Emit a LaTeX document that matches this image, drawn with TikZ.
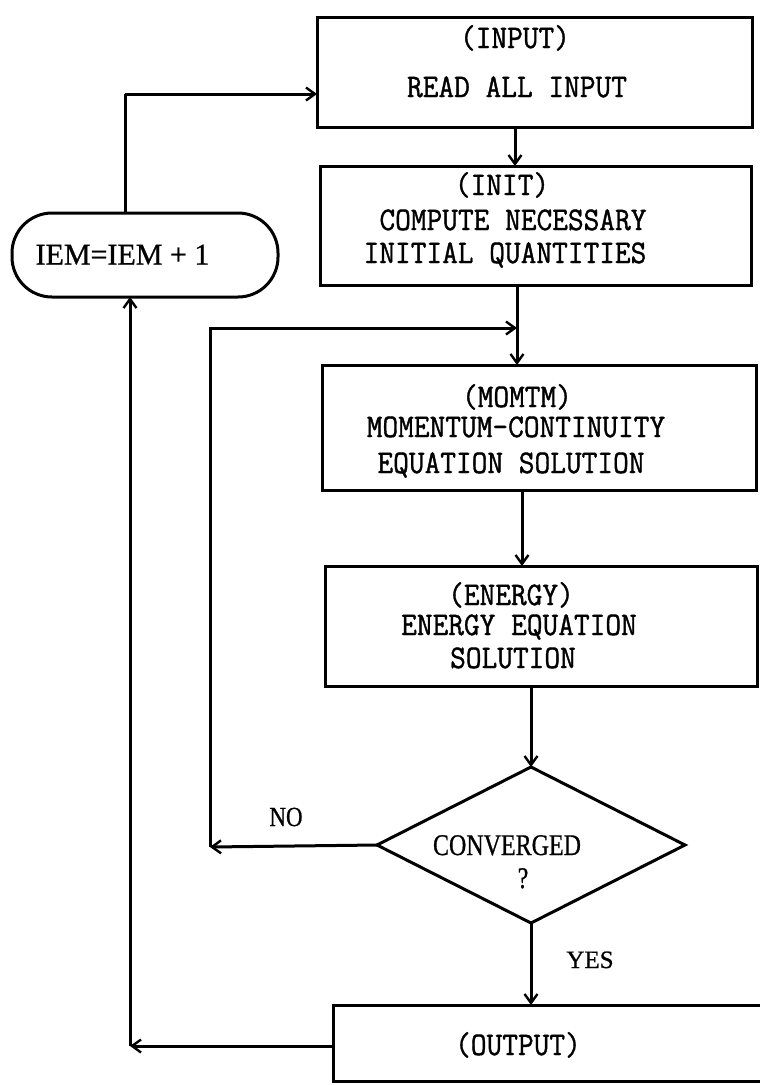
\documentclass[tikz,border=0pt]{standalone}
\usepackage{fontspec}
\newfontfamily\labfont[FakeBold=0.8]{Liberation Serif}
\newfontfamily\monofont[FakeBold=1.2]{Latin Modern Mono}
\usetikzlibrary{shapes.geometric,arrows.meta}
\newcommand{\mtxt}[1]{\scalebox{1}[1.08]{#1}}
\newcommand{\stxt}[1]{\scalebox{1}[1.25]{#1}}
\begin{document}
\begin{tikzpicture}[x=1pt,y=-1pt,
  line width=3pt,
  boxst/.style={draw, line width=3pt, inner sep=0pt, outer sep=0pt},
  txt/.style={font=\monofont\fontsize{30.5}{33}\selectfont, inner sep=0pt, anchor=base},
  lbl/.style={font=\labfont\fontsize{25}{28}\selectfont, inner sep=0pt, anchor=base},
  arr/.style={-{Straight Barb[length=9pt,width=13pt,line width=2.4pt]}, line width=3pt}]
\useasboundingbox (0,0) rectangle (760,1085);
\clip (0,0) rectangle (760,1085);
% boxes
\node[boxst, minimum width=435pt, minimum height=110pt] (input) at (534.5,72) {};
\node[boxst, minimum width=431pt, minimum height=119pt] (init) at (535.5,225.5) {};
\node[boxst, minimum width=434pt, minimum height=125pt] (momtm) at (539,427.5) {};
\node[boxst, minimum width=432pt, minimum height=120pt] (energy) at (541,626) {};
\node[boxst, diamond, minimum width=308pt, minimum height=156pt] (conv) at (531,845) {};
\node[boxst, minimum width=450pt, minimum height=76pt] (output) at (558,1043) {};
\node[boxst, rounded corners=40pt, minimum width=266pt, minimum height=84pt] (iem) at (145,255) {};
% texts
\node[txt] (t1a) at (515,48) {\mtxt{(INPUT)}};
\node[txt] (t1b) at (517,97) {\mtxt{READ ALL INPUT}};
\node[txt] (t2a) at (502,195) {\mtxt{(INIT)}};
\node[txt] (t2b) at (513,230) {\mtxt{COMPUTE NECESSARY}};
\node[txt] (t2c) at (505,263) {\mtxt{INITIAL QUANTITIES}};
\node[txt] (t3a) at (517,407) {\mtxt{(MOMTM)}};
\node[txt] (t3b) at (516,437) {\mtxt{MOMENTUM-CONTINUITY}};
\node[txt] (t3c) at (511,473) {\mtxt{EQUATION SOLUTION}};
\node[txt] (t4a) at (511,605) {\mtxt{(ENERGY)}};
\node[txt] (t4b) at (519,635) {\mtxt{ENERGY EQUATION}};
\node[txt] (t4c) at (513,668) {\mtxt{SOLUTION}};
\node[txt] (t5a) at (518,1055) {\mtxt{(OUTPUT)}};
\node[lbl, font=\labfont\fontsize{24}{28}\selectfont] (cv1) at (507,855) {\stxt{CONVERGED}};
\node[lbl, font=\labfont\fontsize{24}{28}\selectfont] (cv2) at (523,888) {\stxt{?}};
\node[lbl, font=\labfont\fontsize{23}{28}\selectfont] (no) at (286,826) {\scalebox{1}[1.2]{NO}};
\node[lbl] (yes) at (590,968) {YES};
\node[lbl, font=\labfont\fontsize{30}{32}\selectfont] (iemt) at (122.5,264.5) {IEM=IEM + 1};
% coordinates
\coordinate (cno) at (210,847);
\coordinate (jn) at (517,328);
\coordinate (cout) at (130,1046);
\coordinate (ctop) at (125,94);
% connectors
\draw[arr] (input.south -| 515,0) -- (init.north -| 515,0);
\draw[arr] (init.south -| jn) -- (momtm.north -| jn);
\draw[arr] (momtm.south -| 522,0) -- (energy.north -| 522,0);
\draw[arr] (energy.south -| conv.north) -- (conv.north);
\draw[arr] (conv.south) -- (output.north -| conv.south);
\draw[arr] (conv.west) -- (cno);
\draw[arr] (cno) |- (jn);
\draw[arr] (output.west |- cout) -- (cout);
\draw[arr] (cout) -- (iem.south -| cout);
\draw (iem.north -| ctop) -- (ctop);
\draw[arr] (ctop) -- (input.west |- ctop);
\end{tikzpicture}
\end{document}
